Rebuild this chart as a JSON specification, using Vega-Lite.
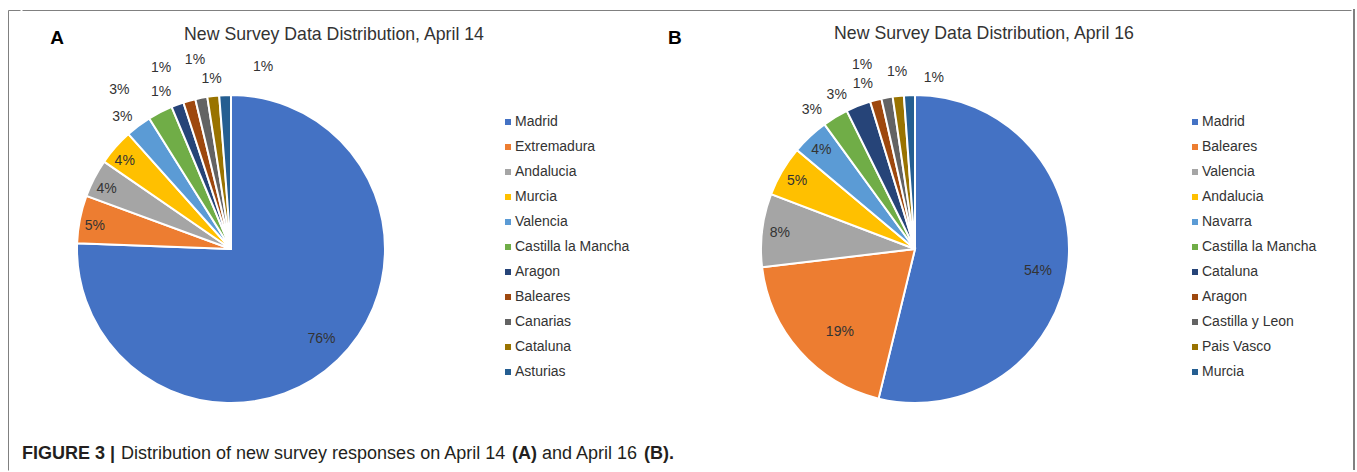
{
  "$schema": "https://vega.github.io/schema/vega-lite/v6.json",
  "padding": {"left": 7, "top": 9, "right": 0, "bottom": 0},
  "background": "white",
  "config": {
    "font": "Liberation Sans",
    "view": {"stroke": null},
    "title": {"fontWeight": "normal", "color": "#333333", "baseline": "alphabetic"},
    "text": {"fontSize": 14, "color": "#333333"}
  },
  "datasets": {
    "a": [
      {"region": "Madrid", "share": 0.756},
      {"region": "Extremadura", "share": 0.050},
      {"region": "Andalucia", "share": 0.040},
      {"region": "Murcia", "share": 0.038},
      {"region": "Valencia", "share": 0.027},
      {"region": "Castilla la Mancha", "share": 0.026},
      {"region": "Aragon", "share": 0.0130},
      {"region": "Baleares", "share": 0.0128},
      {"region": "Canarias", "share": 0.0126},
      {"region": "Cataluna", "share": 0.0124},
      {"region": "Asturias", "share": 0.0122}
    ],
    "b": [
      {"region": "Madrid", "share": 0.538},
      {"region": "Baleares", "share": 0.193},
      {"region": "Valencia", "share": 0.077},
      {"region": "Andalucia", "share": 0.053},
      {"region": "Navarra", "share": 0.039},
      {"region": "Castilla la Mancha", "share": 0.027},
      {"region": "Cataluna", "share": 0.026},
      {"region": "Aragon", "share": 0.0120},
      {"region": "Castilla y Leon", "share": 0.0118},
      {"region": "Pais Vasco", "share": 0.0117},
      {"region": "Murcia", "share": 0.0115}
    ]
  },
  "hconcat": [
    {
      "width": 12, "height": 460,
      "data": {"values": []},
      "mark": "point",
      "view": {"stroke": "#808080", "strokeWidth": 1, "strokeDash": [12, 472, 1000]}
    },
    {
      "vconcat": [
        {
          "width": 1329, "height": 1,
          "data": {"values": []},
          "mark": "point",
          "view": {"stroke": "#808080", "strokeWidth": 1, "strokeDash": [1329, 3000]}
        },
        {
          "vconcat": [
            {
              "hconcat": [
                {
                  "width": 42, "height": 1,
                  "data": {"values": []},
                  "mark": "point",
                  "title": {"text": "A", "anchor": "end", "fontSize": 19, "fontWeight": "bold", "color": "#000000", "offset": 47}
                },
                {
                  "width": 308, "height": 308,
                  "data": {"name": "a"},
                  "title": {"text": "New Survey Data Distribution, April 14", "fontSize": 17.7, "anchor": "middle", "dx": 103, "offset": 10},
                  "layer": [
                    {
                      "mark": {"type": "arc", "stroke": "white", "strokeWidth": 2},
                      "encoding": {
                        "theta": {"field": "share", "type": "quantitative", "stack": true},
                        "order": {"field": "share", "type": "quantitative", "sort": "descending"},
                        "color": {
                          "field": "region", "type": "nominal",
                          "scale": {
                            "domain": ["Madrid", "Extremadura", "Andalucia", "Murcia", "Valencia", "Castilla la Mancha", "Aragon", "Baleares", "Canarias", "Cataluna", "Asturias"],
                            "range": ["#4472C4", "#ED7D31", "#A5A5A5", "#FFC000", "#5B9BD5", "#70AD47", "#264478", "#9E480E", "#636363", "#997300", "#255E91"]
                          },
                          "legend": {"title": null, "orient": "right", "offset": 96, "padding": 20, "symbolType": "square", "symbolSize": 36, "symbolStrokeWidth": 0, "labelFontSize": 14, "labelColor": "#333333", "rowPadding": 11, "labelOffset": 0, "labelLimit": 300}
                        }
                      }
                    },
                    {
                      "mark": {"type": "text", "radius": 128, "thetaOffset": -0.019},
                      "encoding": {
                        "theta": {"field": "share", "type": "quantitative", "stack": true},
                        "order": {"field": "share", "type": "quantitative", "sort": "descending"},
                        "detail": {"field": "region"},
                        "text": {"condition": {"test": "datum.share >= 0.3", "field": "share", "type": "quantitative", "format": ".0%"}, "value": ""}}
                    },
                    {
                      "mark": {"type": "text", "radius": 138, "thetaOffset": -0.031},
                      "encoding": {
                        "theta": {"field": "share", "type": "quantitative", "stack": true},
                        "order": {"field": "share", "type": "quantitative", "sort": "descending"},
                        "detail": {"field": "region"},
                        "text": {"condition": {"test": "datum.share >= 0.03 && datum.share < 0.15", "field": "share", "type": "quantitative", "format": ".0%"}, "value": ""}}
                    },
                    {
                      "transform": [
                        {"stack": "share", "groupby": [], "sort": [{"field": "share", "order": "descending"}], "as": ["s0", "s1"]},
                        {"filter": "datum.region === 'Valencia' || datum.region === 'Cataluna'"}
                      ],
                      "mark": {"type": "text", "radius": 171, "thetaOffset": 0.041},
                      "encoding": {"theta": {"field": "s0", "type": "quantitative", "stack": null}, "text": {"field": "share", "type": "quantitative", "format": ".0%"}}
                    },
                    {
                      "transform": [
                        {"stack": "share", "groupby": [], "sort": [{"field": "share", "order": "descending"}], "as": ["s0", "s1"]},
                        {"filter": "datum.region === 'Castilla la Mancha' || datum.region === 'Baleares'"}
                      ],
                      "mark": {"type": "text", "radius": 194, "thetaOffset": -0.054},
                      "encoding": {"theta": {"field": "s0", "type": "quantitative", "stack": null}, "text": {"field": "share", "type": "quantitative", "format": ".0%"}}
                    },
                    {
                      "transform": [
                        {"stack": "share", "groupby": [], "sort": [{"field": "share", "order": "descending"}], "as": ["s0", "s1"]},
                        {"filter": "datum.region === 'Canarias'"}
                      ],
                      "mark": {"type": "text", "radius": 192, "thetaOffset": 0.045},
                      "encoding": {"theta": {"field": "s0", "type": "quantitative", "stack": null}, "text": {"field": "share", "type": "quantitative", "format": ".0%"}}
                    },
                    {
                      "transform": [
                        {"stack": "share", "groupby": [], "sort": [{"field": "share", "order": "descending"}], "as": ["s0", "s1"]},
                        {"filter": "datum.region === 'Aragon'"}
                      ],
                      "mark": {"type": "text", "radius": 172, "thetaOffset": -0.023},
                      "encoding": {"theta": {"field": "s0", "type": "quantitative", "stack": null}, "text": {"field": "share", "type": "quantitative", "format": ".0%"}}
                    },
                    {
                      "transform": [
                        {"stack": "share", "groupby": [], "sort": [{"field": "share", "order": "descending"}], "as": ["s0", "s1"]},
                        {"filter": "datum.region === 'Asturias'"}
                      ],
                      "mark": {"type": "text", "radius": 185, "thetaOffset": 0.251},
                      "encoding": {"theta": {"field": "s0", "type": "quantitative", "stack": null}, "text": {"field": "share", "type": "quantitative", "format": ".0%"}}
                    }
                  ]
                },
                {
                  "width": 89, "height": 1,
                  "data": {"values": []},
                  "mark": "point",
                  "title": {"text": "B", "anchor": "start", "dx": 9, "fontSize": 19, "fontWeight": "bold", "color": "#000000", "offset": 47}
                },
                {
                  "width": 308, "height": 308,
                  "data": {"name": "b"},
                  "title": {"text": "New Survey Data Distribution, April 16", "fontSize": 17.7, "anchor": "middle", "dx": 69, "offset": 16},
                  "layer": [
                    {
                      "mark": {"type": "arc", "stroke": "white", "strokeWidth": 2},
                      "encoding": {
                        "theta": {"field": "share", "type": "quantitative", "stack": true},
                        "order": {"field": "share", "type": "quantitative", "sort": "descending"},
                        "color": {
                          "field": "region", "type": "nominal",
                          "scale": {
                            "domain": ["Madrid", "Baleares", "Valencia", "Andalucia", "Navarra", "Castilla la Mancha", "Cataluna", "Aragon", "Castilla y Leon", "Pais Vasco", "Murcia"],
                            "range": ["#4472C4", "#ED7D31", "#A5A5A5", "#FFC000", "#5B9BD5", "#70AD47", "#264478", "#9E480E", "#636363", "#997300", "#255E91"]
                          },
                          "legend": {"title": null, "orient": "right", "offset": 99, "padding": 20, "symbolType": "square", "symbolSize": 36, "symbolStrokeWidth": 0, "labelFontSize": 14, "labelColor": "#333333", "rowPadding": 11, "labelOffset": 0, "labelLimit": 300}
                        }
                      }
                    },
                    {
                      "mark": {"type": "text", "radius": 125, "thetaOffset": 0.057},
                      "encoding": {
                        "theta": {"field": "share", "type": "quantitative", "stack": true},
                        "order": {"field": "share", "type": "quantitative", "sort": "descending"},
                        "detail": {"field": "region"},
                        "text": {"condition": {"test": "datum.share >= 0.3", "field": "share", "type": "quantitative", "format": ".0%"}, "value": ""}}
                    },
                    {
                      "mark": {"type": "text", "radius": 112, "thetaOffset": -0.11},
                      "encoding": {
                        "theta": {"field": "share", "type": "quantitative", "stack": true},
                        "order": {"field": "share", "type": "quantitative", "sort": "descending"},
                        "detail": {"field": "region"},
                        "text": {"condition": {"test": "datum.share >= 0.15 && datum.share < 0.3", "field": "share", "type": "quantitative", "format": ".0%"}, "value": ""}}
                    },
                    {
                      "mark": {"type": "text", "radius": 136, "thetaOffset": -0.008},
                      "encoding": {
                        "theta": {"field": "share", "type": "quantitative", "stack": true},
                        "order": {"field": "share", "type": "quantitative", "sort": "descending"},
                        "detail": {"field": "region"},
                        "text": {"condition": {"test": "datum.share >= 0.03 && datum.share < 0.15", "field": "share", "type": "quantitative", "format": ".0%"}, "value": ""}}
                    },
                    {
                      "transform": [
                        {"stack": "share", "groupby": [], "sort": [{"field": "share", "order": "descending"}], "as": ["s0", "s1"]},
                        {"filter": "datum.region === 'Castilla la Mancha' || datum.region === 'Cataluna' || datum.region === 'Aragon'"}
                      ],
                      "mark": {"type": "text", "radius": 173, "thetaOffset": -0.011},
                      "encoding": {"theta": {"field": "s0", "type": "quantitative", "stack": null}, "text": {"field": "share", "type": "quantitative", "format": ".0%"}}
                    },
                    {
                      "transform": [
                        {"stack": "share", "groupby": [], "sort": [{"field": "share", "order": "descending"}], "as": ["s0", "s1"]},
                        {"filter": "datum.region === 'Castilla y Leon'"}
                      ],
                      "mark": {"type": "text", "radius": 191, "thetaOffset": -0.061},
                      "encoding": {"theta": {"field": "s0", "type": "quantitative", "stack": null}, "text": {"field": "share", "type": "quantitative", "format": ".0%"}}
                    },
                    {
                      "transform": [
                        {"stack": "share", "groupby": [], "sort": [{"field": "share", "order": "descending"}], "as": ["s0", "s1"]},
                        {"filter": "datum.region === 'Pais Vasco'"}
                      ],
                      "mark": {"type": "text", "radius": 178, "thetaOffset": 0.045},
                      "encoding": {"theta": {"field": "s0", "type": "quantitative", "stack": null}, "text": {"field": "share", "type": "quantitative", "format": ".0%"}}
                    },
                    {
                      "transform": [
                        {"stack": "share", "groupby": [], "sort": [{"field": "share", "order": "descending"}], "as": ["s0", "s1"]},
                        {"filter": "datum.region === 'Murcia'"}
                      ],
                      "mark": {"type": "text", "radius": 172, "thetaOffset": 0.182},
                      "encoding": {"theta": {"field": "s0", "type": "quantitative", "stack": null}, "text": {"field": "share", "type": "quantitative", "format": ".0%"}}
                    }
                  ]
                }
              ],
              "spacing": 9,
              "resolve": {"scale": {"color": "independent"}, "legend": {"color": "independent"}}
            },
            {
              "hconcat": [
                {"width": 1, "height": 1, "data": {"values": []}, "mark": "point", "title": {"text": "FIGURE 3 |", "anchor": "start", "fontSize": 18, "fontWeight": "bold", "color": "#231F20", "offset": 0}},
                {"width": 1, "height": 1, "data": {"values": []}, "mark": "point", "title": {"text": "Distribution of new survey responses on April 14", "anchor": "start", "fontSize": 18, "color": "#231F20", "offset": 0}},
                {"width": 1, "height": 1, "data": {"values": []}, "mark": "point", "title": {"text": "(A)", "anchor": "start", "fontSize": 18, "fontWeight": "bold", "color": "#231F20", "offset": 0}},
                {"width": 1, "height": 1, "data": {"values": []}, "mark": "point", "title": {"text": "and April 16", "anchor": "start", "fontSize": 18, "color": "#231F20", "offset": 0}},
                {"width": 1, "height": 1, "data": {"values": []}, "mark": "point", "title": {"text": "(B).", "anchor": "start", "fontSize": 18, "fontWeight": "bold", "color": "#231F20", "offset": 0}}
              ],
              "spacing": 5
            }
          ],
          "spacing": 38
        }
      ],
      "spacing": 12
    },
    {
      "width": 1, "height": 460,
      "data": {"values": []},
      "mark": "point",
      "view": {"stroke": "#808080", "strokeWidth": 2, "strokeDash": [461, 1000]}
    }
  ],
  "spacing": 0
}
